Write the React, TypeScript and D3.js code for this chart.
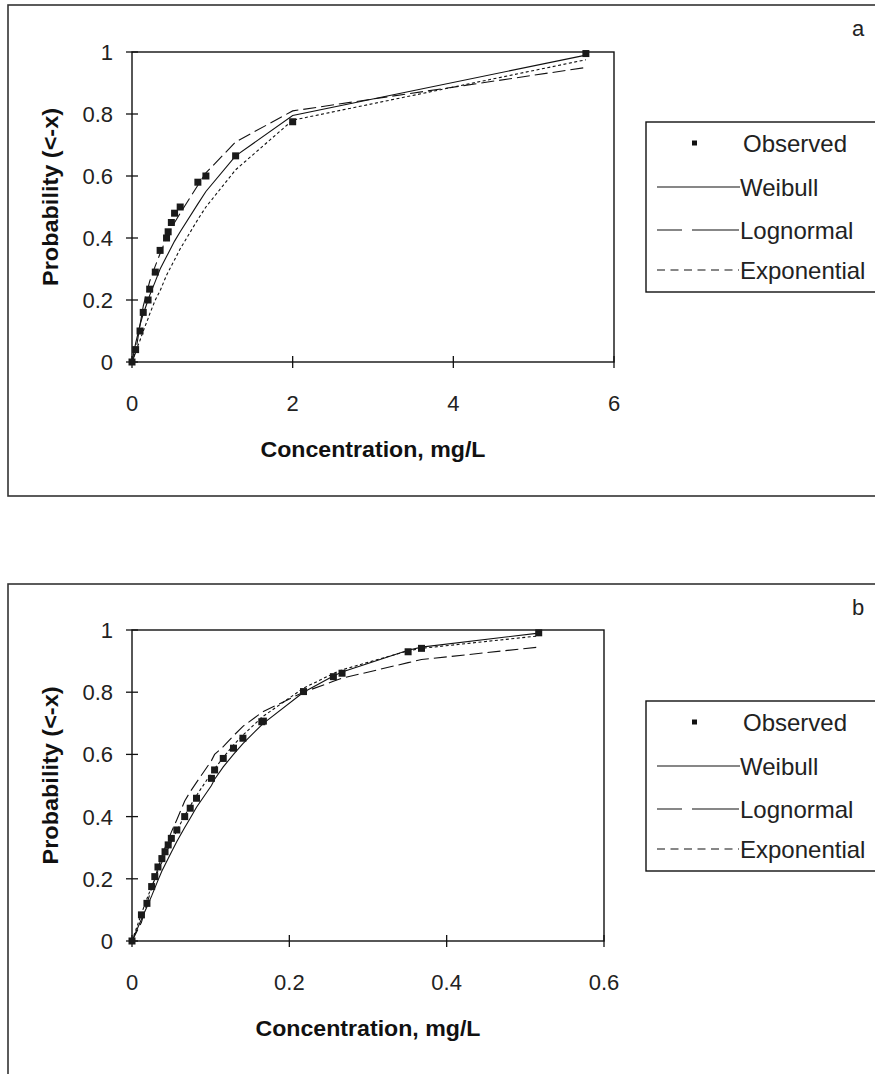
import * as d3 from "d3";

// panel a: observed points and fitted CDFs read at the observed concentrations
const concA = [0, 0.045, 0.1, 0.14, 0.2, 0.22, 0.29, 0.35, 0.43, 0.45, 0.49, 0.53, 0.6, 0.82, 0.92, 1.29, 2.0, 5.65];
const observedA = [0, 0.04, 0.1, 0.16, 0.2, 0.235, 0.29, 0.36, 0.4, 0.42, 0.45, 0.48, 0.5, 0.58, 0.6, 0.665, 0.775, 0.995];
const weibullA = [0, 0.06, 0.12, 0.155, 0.2, 0.215, 0.26, 0.3, 0.34, 0.35, 0.37, 0.39, 0.42, 0.51, 0.55, 0.665, 0.795, 0.99];
const lognormalA = [0, 0.03, 0.12, 0.18, 0.24, 0.26, 0.31, 0.35, 0.4, 0.41, 0.43, 0.45, 0.48, 0.57, 0.61, 0.71, 0.81, 0.95];
const exponentialA = [0, 0.035, 0.07, 0.1, 0.14, 0.155, 0.2, 0.23, 0.28, 0.29, 0.31, 0.33, 0.365, 0.46, 0.5, 0.62, 0.78, 0.975];

// panel b
const concB = [0, 0.012, 0.019, 0.025, 0.029, 0.033, 0.038, 0.042, 0.046, 0.05, 0.057, 0.067, 0.074, 0.082, 0.101, 0.105, 0.116, 0.129, 0.141, 0.165, 0.167, 0.218, 0.256, 0.267, 0.351, 0.368, 0.517];
const observedB = [0, 0.084, 0.121, 0.175, 0.207, 0.238, 0.265, 0.287, 0.309, 0.33, 0.357, 0.4, 0.427, 0.459, 0.523, 0.55, 0.587, 0.62, 0.652, 0.705, 0.707, 0.802, 0.85, 0.861, 0.93, 0.941, 0.991];
const weibullB = [0, 0.07, 0.11, 0.145, 0.17, 0.195, 0.225, 0.245, 0.265, 0.285, 0.32, 0.365, 0.395, 0.43, 0.5, 0.52, 0.56, 0.6, 0.635, 0.695, 0.7, 0.8, 0.852, 0.865, 0.935, 0.945, 0.99];
const lognormalB = [0, 0.06, 0.12, 0.17, 0.2, 0.235, 0.27, 0.3, 0.325, 0.35, 0.39, 0.45, 0.48, 0.51, 0.58, 0.6, 0.625, 0.66, 0.69, 0.735, 0.738, 0.8, 0.835, 0.845, 0.895, 0.905, 0.945];
const exponentialB = [0, 0.088, 0.136, 0.175, 0.2, 0.224, 0.253, 0.276, 0.298, 0.319, 0.355, 0.403, 0.434, 0.468, 0.54, 0.554, 0.59, 0.63, 0.662, 0.719, 0.723, 0.813, 0.86, 0.872, 0.933, 0.941, 0.981];

const probTicks = [0, 0.2, 0.4, 0.6, 0.8, 1];
const concTicksA = [0, 2, 4, 6];
const concTicksB = [0, 0.2, 0.4, 0.6];
const legendNames = ["Observed", "Weibull", "Lognormal", "Exponential"];

const FONT = "'Liberation Sans', Arial, sans-serif";
const INK = "#111";

type PanelProps = {
  frameY: number;
  frameH: number;
  plot: { left: number; right: number; top: number; bottom: number };
  xMax: number;
  xTicks: number[];
  conc: number[];
  observed: number[];
  weibull: number[];
  lognormal: number[];
  exponential: number[];
  letter: string;
  legendY: number;
};

function Panel(p: PanelProps) {
  const { plot } = p;
  const x = d3.scaleLinear().domain([0, p.xMax]).range([plot.left, plot.right]);
  const y = d3.scaleLinear().domain([0, 1]).range([plot.bottom, plot.top]);
  const line = d3
    .line<number>()
    .x((_, i) => x(p.conc[i]))
    .y((d) => y(d));

  const lg = { x: 646, y: p.legendY, rows: [21, 65, 108, 148] };

  return (
    <g>
      <rect x={8} y={p.frameY} width={900} height={p.frameH} fill="#fff" stroke="#333" strokeWidth={1.6} />
      <rect
        x={plot.left}
        y={plot.top}
        width={plot.right - plot.left}
        height={plot.bottom - plot.top}
        fill="none"
        stroke={INK}
        strokeWidth={1.4}
      />
      {probTicks.map((t) => (
        <g key={`y${t}`}>
          <line x1={plot.left - 6} x2={plot.left + 6} y1={y(t)} y2={y(t)} stroke={INK} strokeWidth={1.3} />
          <text x={plot.left - 19} y={y(t)} dy="0.36em" textAnchor="end" fontSize={22} fontFamily={FONT} fill="#222">
            {String(t)}
          </text>
        </g>
      ))}
      {p.xTicks.map((t) => (
        <g key={`x${t}`}>
          <line x1={x(t)} x2={x(t)} y1={plot.bottom - 6} y2={plot.bottom + 6} stroke={INK} strokeWidth={1.3} />
          <text x={x(t)} y={plot.bottom + 41} dy="0.36em" textAnchor="middle" fontSize={22} fontFamily={FONT} fill="#222">
            {String(t)}
          </text>
        </g>
      ))}
      <text
        transform={`translate(50,${(plot.top + plot.bottom) / 2 - 10}) rotate(-90)`}
        textAnchor="middle"
        dy="0.36em"
        fontSize={22}
        fontWeight="bold"
        fontFamily={FONT}
        textLength={178}
        lengthAdjust="spacingAndGlyphs"
        fill={INK}
      >
        Probability (&lt;-x)
      </text>
      <text
        x={(plot.left + plot.right) / 2}
        y={plot.bottom + 87}
        dy="0.36em"
        textAnchor="middle"
        fontSize={22}
        fontWeight="bold"
        fontFamily={FONT}
        textLength={225}
        lengthAdjust="spacingAndGlyphs"
        fill={INK}
      >
        Concentration, mg/L
      </text>
      <text x={858} y={p.frameY + 23} dy="0.36em" textAnchor="middle" fontSize={22} fontFamily={FONT} fill="#222">
        {p.letter}
      </text>

      <path d={line(p.exponential) ?? ""} fill="none" stroke={INK} strokeWidth={1.1} strokeDasharray="3,2.5" />
      <path d={line(p.lognormal) ?? ""} fill="none" stroke={INK} strokeWidth={1.1} strokeDasharray="13,5" />
      <path d={line(p.weibull) ?? ""} fill="none" stroke={INK} strokeWidth={1.1} />
      {p.conc.map((c, i) => (
        <rect key={`o${i}`} x={x(c) - 3.5} y={y(p.observed[i]) - 3.5} width={7} height={7} fill="#1a1a1a" />
      ))}

      <rect x={lg.x} y={lg.y} width={240} height={170} fill="#fff" stroke={INK} strokeWidth={1.4} />
      <rect x={lg.x + 46} y={lg.y + lg.rows[0] - 2.5} width={5} height={5} fill={INK} />
      <line x1={lg.x + 11} x2={lg.x + 94} y1={lg.y + lg.rows[1]} y2={lg.y + lg.rows[1]} stroke={INK} strokeWidth={1.1} />
      <line
        x1={lg.x + 11}
        x2={lg.x + 93}
        y1={lg.y + lg.rows[2]}
        y2={lg.y + lg.rows[2]}
        stroke={INK}
        strokeWidth={1.1}
        strokeDasharray="25,10,60"
      />
      <line
        x1={lg.x + 11}
        x2={lg.x + 93}
        y1={lg.y + lg.rows[3]}
        y2={lg.y + lg.rows[3]}
        stroke={INK}
        strokeWidth={1.1}
        strokeDasharray="8,5.5"
      />
      {legendNames.map((name, i) => (
        <text
          key={name}
          x={lg.x + (i === 0 ? 97 : 94)}
          y={lg.y + lg.rows[i]}
          dy="0.36em"
          fontSize={24}
          fontFamily={FONT}
          fill="#222"
        >
          {name}
        </text>
      ))}
    </g>
  );
}

export default function App() {
  return (
    <div style={{ position: "absolute", left: 0, top: 0, width: 875, height: 1074, background: "#fff" }}>
      <svg width={875} height={1074} style={{ display: "block" }}>
        <rect width={875} height={1074} fill="#fff" />
        <Panel
          frameY={5}
          frameH={491}
          plot={{ left: 132, right: 614, top: 52, bottom: 362 }}
          xMax={6}
          xTicks={concTicksA}
          conc={concA}
          observed={observedA}
          weibull={weibullA}
          lognormal={lognormalA}
          exponential={exponentialA}
          letter="a"
          legendY={122}
        />
        <Panel
          frameY={584}
          frameH={600}
          plot={{ left: 132, right: 604, top: 630, bottom: 941 }}
          xMax={0.6}
          xTicks={concTicksB}
          conc={concB}
          observed={observedB}
          weibull={weibullB}
          lognormal={lognormalB}
          exponential={exponentialB}
          letter="b"
          legendY={701}
        />
      </svg>
    </div>
  );
}
